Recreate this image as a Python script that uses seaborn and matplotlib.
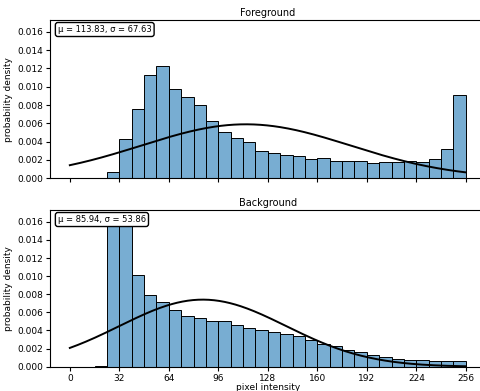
import numpy as np
import pandas as pd
import seaborn as sns
import matplotlib
matplotlib.use("Agg")
import matplotlib.pyplot as plt

# bin edges (width 8) and density
bin_edges = list(range(0, 257, 8))
bin_left = bin_edges[:-1]

fg_density = [0, 0, 0, 0.00066, 0.0043, 0.0076, 0.0113, 0.0123,
              0.0098, 0.0089, 0.0080, 0.0063, 0.0051, 0.00445, 0.0040, 0.0030,
              0.0028, 0.00255, 0.00244, 0.0021, 0.00226, 0.0019, 0.0019, 0.0019,
              0.00164, 0.00178, 0.00179, 0.0019, 0.00182, 0.00208, 0.00318, 0.00913]
bg_density = [0, 0, 0.0001, 0.0158, 0.0155, 0.0101, 0.0079, 0.0071,
              0.0063, 0.00557, 0.0054, 0.00504, 0.00504, 0.0046, 0.0043, 0.0041,
              0.0038, 0.0036, 0.0034, 0.0030, 0.00255, 0.0023, 0.0018, 0.0016,
              0.0013, 0.00106, 0.00087, 0.0007, 0.0007, 0.0006, 0.0006, 0.0006]

fg_mu, fg_sigma = 113.83, 67.63
bg_mu, bg_sigma = 85.94, 53.86

panels = [("Foreground", fg_density, fg_mu, fg_sigma),
          ("Background", bg_density, bg_mu, bg_sigma)]

plt.rcParams["font.family"] = ["DejaVu Sans"]
plt.rcParams["font.size"] = 6.5

fig = plt.figure(figsize=(4.81, 3.91), dpi=100)
ax_top = fig.add_axes([0.104, 0.544, 0.9056, 0.405])
ax_bot = fig.add_axes([0.104, 0.0621, 0.9056, 0.4008], sharex=ax_top)

for ax, (title, dens, mu, sigma) in zip([ax_top, ax_bot], panels):
    df = pd.DataFrame({"x": np.array(bin_left) + 4, "w": dens})
    sns.histplot(data=df, x="x", weights="w", bins=bin_edges, stat="count",
                 color="#1f77b4", alpha=0.6, edgecolor="black", linewidth=0.7,
                 ax=ax)
    xs = np.linspace(0, 256, 300)
    pdf = np.exp(-0.5 * ((xs - mu) / sigma) ** 2) / (sigma * np.sqrt(2 * np.pi))
    sns.lineplot(x=xs, y=pdf, color="black", linewidth=1.4, ax=ax)
    ax.set_title(title, fontsize=7, pad=3)
    ax.set_ylabel("probability density", fontsize=6.5, labelpad=3)
    ax.set_ylim(0, 0.0173)
    ax.set_yticks(np.arange(0, 0.0161, 0.002))
    ax.yaxis.set_major_formatter(matplotlib.ticker.FormatStrFormatter("%.3f"))
    ax.text(0.018, 0.968, f"μ = {mu:.2f}, σ = {sigma:.2f}", transform=ax.transAxes,
            va="top", ha="left", fontsize=6,
            bbox=dict(boxstyle="round,pad=0.3", facecolor="white", edgecolor="black"))
    ax.tick_params(labelsize=6.5, length=3, pad=2)

ax_top.set_xlim(-12.8, 268.8)
ax_top.set_xticks(range(0, 257, 32))
ax_top.tick_params(labelbottom=False)
ax_top.set_xlabel("")
ax_bot.set_xlabel("pixel intensity", fontsize=6.5, labelpad=0)

fig.savefig("out.png", dpi=100)
